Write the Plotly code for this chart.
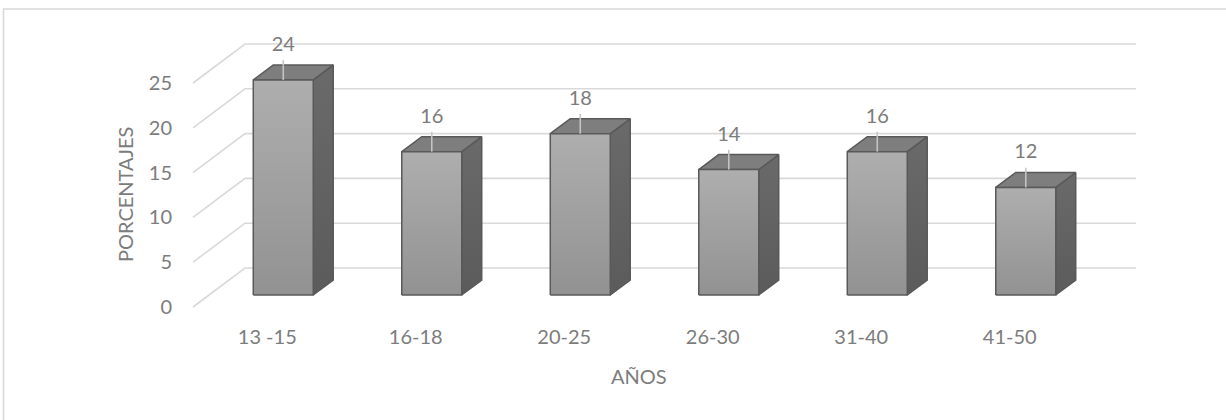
import plotly.graph_objects as go

# Data
categories = ["13 -15", "16-18", "20-25", "26-30", "31-40", "41-50"]
percentages = [24, 16, 18, 14, 16, 12]
y_ticks = [0, 5, 10, 15, 20, 25]

# Oblique projection used for the 3-D look (offsets per unit of depth, in axis units)
KX = 0.3502          # horizontal shift per unit depth (category units)
KY = 4.353           # vertical shift per unit depth (value units)
D_FRONT, D_BACK = 0.308, 0.692   # depth span of each column
HALF_W = 0.202       # half width of a column (category units)
LABEL_GAP = 3.8      # value-label height above the column's front top edge
LEADER_LEN = 2.2

FLOOR_L, FLOOR_R = -0.5, 5.5

TEXT_COLOR = "#7c7c7c"
GRID_COLOR = "#d9d9d9"
EDGE_COLOR = "#595959"
FONT = "Lato"


def proj(x, v, d):
    return x + KX * d, v + KY * d


fig = go.Figure()

# Gridlines: side wall diagonal + back wall horizontal
gx, gy = [], []
for t in y_ticks:
    for (x, d) in [(FLOOR_L, 0), (FLOOR_L, 1), (FLOOR_R, 1)]:
        px, py = proj(x, t, d)
        gx.append(px)
        gy.append(py)
    gx.append(None)
    gy.append(None)
fig.add_trace(go.Scatter(x=gx, y=gy, mode="lines",
                         line=dict(color=GRID_COLOR, width=1.6),
                         hoverinfo="skip", showlegend=False))


def face(points, fill_color=None, gradient=None):
    xs, ys = zip(*[proj(*p) for p in points])
    xs = list(xs) + [xs[0]]
    ys = list(ys) + [ys[0]]
    kw = dict(x=xs, y=ys, mode="lines", fill="toself",
              line=dict(color=EDGE_COLOR, width=1.5),
              hoverinfo="skip", showlegend=False)
    if gradient is not None:
        kw["fillgradient"] = gradient
    else:
        kw["fillcolor"] = fill_color
    fig.add_trace(go.Scatter(**kw))


for i, v in enumerate(percentages):
    xl, xr = i - HALF_W, i + HALF_W
    # right side face
    y_lo = min(proj(xr, 0, D_FRONT)[1], proj(xr, 0, D_BACK)[1])
    y_hi = max(proj(xr, v, D_FRONT)[1], proj(xr, v, D_BACK)[1])
    face([(xr, 0, D_FRONT), (xr, 0, D_BACK), (xr, v, D_BACK), (xr, v, D_FRONT)],
         gradient=dict(type="vertical", start=y_lo, stop=y_hi,
                       colorscale=[[0, "#5b5b5b"], [1, "#6a6a6a"]]))
    # top face
    face([(xl, v, D_FRONT), (xr, v, D_FRONT), (xr, v, D_BACK), (xl, v, D_BACK)],
         fill_color="#7e7e7e")
    # front face
    f_lo = proj(xl, 0, D_FRONT)[1]
    f_hi = proj(xl, v, D_FRONT)[1]
    face([(xl, 0, D_FRONT), (xr, 0, D_FRONT), (xr, v, D_FRONT), (xl, v, D_FRONT)],
         gradient=dict(type="vertical", start=f_lo, stop=f_hi,
                       colorscale=[[0, "#929292"], [1, "#aeaeae"]]))

# Leader lines and value labels
lx, ly, tx, ty = [], [], [], []
for i, v in enumerate(percentages):
    cx, top = proj(i, v, D_FRONT)
    lx += [cx, cx, None]
    ly += [top, top + LEADER_LEN, None]
    tx.append(cx)
    ty.append(top + LABEL_GAP)
fig.add_trace(go.Scatter(x=lx, y=ly, mode="lines",
                         line=dict(color="#c4c4c4", width=1.6),
                         hoverinfo="skip", showlegend=False))
fig.add_trace(go.Scatter(x=tx, y=ty, mode="text",
                         text=[str(v) for v in percentages],
                         textposition="middle center",
                         textfont=dict(family=FONT, size=20, color=TEXT_COLOR),
                         hoverinfo="skip", showlegend=False))

# Layout geometry (pixels)
W, H = 1226, 420
L, R, T, B = 176, 76, 30, 98
x_px_per_unit = 148.5
y_px_per_unit = 8.96
x0 = FLOOR_L - (193 - L) / x_px_per_unit
x1 = x0 + (W - L - R) / x_px_per_unit
y0 = -(H - B - 307) / y_px_per_unit
y1 = y0 + (H - T - B) / y_px_per_unit

fig.update_layout(
    width=W, height=H,
    margin=dict(l=L, r=R, t=T, b=B, pad=0),
    paper_bgcolor="white", plot_bgcolor="white",
    font=dict(family=FONT, size=20, color=TEXT_COLOR),
    xaxis=dict(range=[x0, x1], showgrid=False, zeroline=False, showline=False,
               tickmode="array", tickvals=list(range(len(categories))),
               ticktext=categories, ticks="", ticklabelstandoff=1,
               tickfont=dict(family=FONT, size=20, color=TEXT_COLOR)),
    yaxis=dict(range=[y0, y1], showgrid=False, zeroline=False, showline=False,
               tickmode="array", tickvals=y_ticks,
               ticktext=[str(t) for t in y_ticks], ticks="", ticklabelstandoff=3,
               tickfont=dict(family=FONT, size=20, color=TEXT_COLOR)),
    showlegend=False,
)

# Axis titles
fig.add_annotation(text="AÑOS", xref="x", yref="paper",
                   x=(FLOOR_L + FLOOR_R) / 2, y=(H - B - 376) / (H - T - B),
                   showarrow=False, xanchor="center", yanchor="middle",
                   font=dict(family=FONT, size=20, color=TEXT_COLOR))
fig.add_annotation(text="PORCENTAJES", xref="paper", yref="y",
                   x=(125 - L) / (W - L - R), y=12.5, textangle=-90,
                   showarrow=False, xanchor="center", yanchor="middle",
                   font=dict(family=FONT, size=20, color=TEXT_COLOR))

# Chart frame
pw, ph = W - L - R, H - T - B
fig.add_shape(type="rect", xref="paper", yref="paper",
              x0=(3.5 - L) / pw, x1=(W + 10 - L) / pw,
              y0=(H - B - (H + 10)) / ph, y1=(H - B - 9) / ph,
              line=dict(color=GRID_COLOR, width=1.6), fillcolor="rgba(0,0,0,0)",
              layer="below")

fig.write_html("out.html")
